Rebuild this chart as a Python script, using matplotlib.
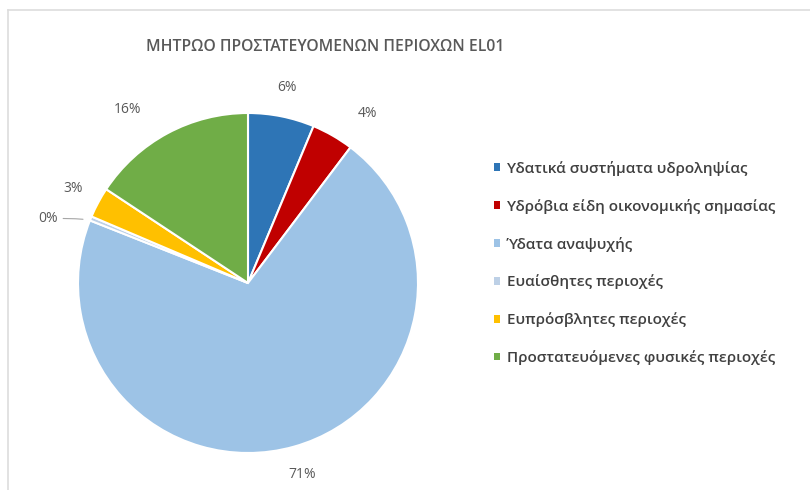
import matplotlib.pyplot as plt
from matplotlib.lines import Line2D
from matplotlib.patches import Patch

# share of each category (%)
categories = ["Υδατικά συστήματα υδροληψίας",
              "Υδρόβια είδη οικονομικής σημασίας",
              "Ύδατα αναψυχής",
              "Ευαίσθητες περιοχές",
              "Ευπρόσβλητες περιοχές",
              "Προστατευόμενες φυσικές περιοχές"]
values = [6.3, 4.0, 70.7, 0.4, 2.9, 15.7]
colors = ["#2E75B6", "#C00000", "#9DC3E6", "#BDD0E6", "#FFC000", "#70AD47"]
title = "ΜΗΤΡΩΟ ΠΡΟΣΤΑΤΕΥΟΜΕΝΩΝ ΠΕΡΙΟΧΩΝ EL01"

plt.rcParams['font.family'] = ['Open Sans', 'DejaVu Sans']

fig = plt.figure(figsize=(8.1, 4.9), dpi=100)
W, H = 810, 490

# pie centre (248, 283) px, radius 170 px
cx, cy, r = 248, 283, 170
ax = fig.add_axes([(cx - r) / W, (H - cy - r) / H, 2 * r / W, 2 * r / H])

wedges, texts, autotexts = ax.pie(values, colors=colors, startangle=90, counterclock=False,
                                  autopct='%.0f%%', pctdistance=1.17,
                                  wedgeprops=dict(edgecolor='white', linewidth=1.5),
                                  textprops=dict(color='#595959', fontsize=10))
ax.set_xlim(-1, 1)
ax.set_ylim(-1, 1)
ax.set_aspect('equal')
ax.axis('off')

# small slice gets a leader line
t0 = autotexts[3]
t0.set_visible(False)
ax.annotate(t0.get_text(), xy=(-0.955, 0.37), xytext=(-1.12, 0.38),
            ha='right', va='center', color='#595959', fontsize=10,
            arrowprops=dict(arrowstyle='-', color='#A6A6A6', lw=0.8,
                            connectionstyle='angle3,angleA=0,angleB=60'))
autotexts[5].set_position((-0.71, 1.02))
autotexts[1].set_position((0.70, 1.0))

fig.text(325 / W, 1 - 47 / H, title, ha='center', va='center',
         fontsize=11.3, fontweight='semibold', color='#595959')

handles = [Patch(facecolor=c, edgecolor='none') for c in colors]
leg = fig.legend(handles, categories, loc='upper left',
                 bbox_to_anchor=(480 / W, 1 - 147 / H), frameon=False,
                 prop=dict(size=11, weight='semibold'), labelcolor='#404040',
                 handlelength=0.4, handleheight=0.4, handletextpad=0.45,
                 labelspacing=1.5)

# chart frame
fig.add_artist(Line2D([8 / W, 8 / W], [0, 1 - 10 / H], color='#DDDDDD', lw=1.2))
fig.add_artist(Line2D([8 / W, 1], [1 - 10 / H, 1 - 10 / H], color='#DDDDDD', lw=1.2))

fig.savefig("out.png", dpi=100)
